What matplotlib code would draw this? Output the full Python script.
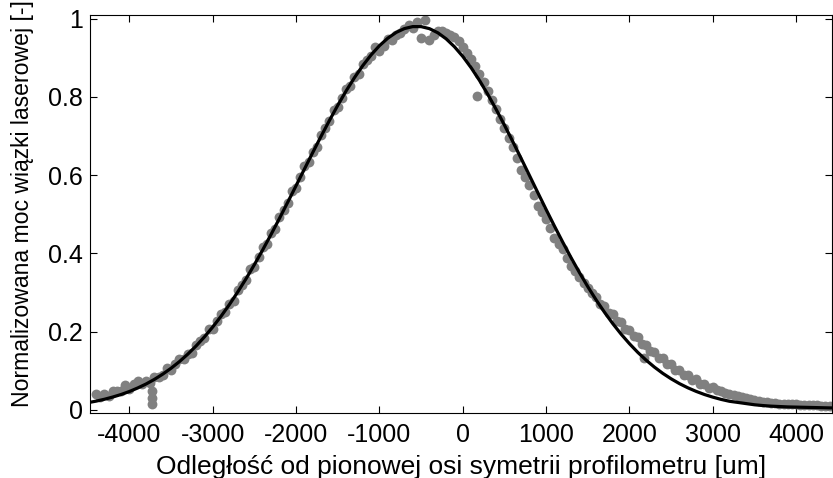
import numpy as np
import matplotlib
matplotlib.use("Agg")
import matplotlib.pyplot as plt

FONT = ["Liberation Sans", "DejaVu Sans"]

# measured profile (every 50 um from -4400 to 4400)
meas_x = np.arange(-4400, 4401, 50)
meas_y = [
    0.040, 0.033, 0.041, 0.035, 0.049, 0.048, 0.048, 0.063, 0.054, 0.065,
    0.074, 0.065, 0.074, 0.069, 0.084, 0.085, 0.088, 0.107, 0.102, 0.116,
    0.129, 0.129, 0.144, 0.146, 0.167, 0.175, 0.184, 0.207, 0.207, 0.227,
    0.246, 0.250, 0.271, 0.279, 0.306, 0.318, 0.332, 0.361, 0.366, 0.391,
    0.415, 0.425, 0.451, 0.462, 0.493, 0.510, 0.528, 0.560, 0.568, 0.595,
    0.622, 0.633, 0.660, 0.672, 0.703, 0.720, 0.737, 0.767, 0.774, 0.798,
    0.821, 0.828, 0.851, 0.857, 0.884, 0.894, 0.904, 0.927, 0.916, 0.931,
    0.948, 0.945, 0.957, 0.963, 0.974, 0.983, 0.975, 0.990, 0.949, 0.997,
    0.946, 0.957, 0.968, 0.968, 0.964, 0.958, 0.952, 0.942, 0.928, 0.913,
    0.896, 0.878, 0.858, 0.838, 0.816, 0.793, 0.770, 0.744, 0.719, 0.694,
    0.672, 0.644, 0.614, 0.595, 0.575, 0.549, 0.521, 0.506, 0.488, 0.465,
    0.439, 0.425, 0.410, 0.388, 0.367, 0.354, 0.339, 0.325, 0.311, 0.298,
    0.289, 0.270, 0.265, 0.247, 0.244, 0.228, 0.225, 0.207, 0.205, 0.189,
    0.186, 0.169, 0.167, 0.150, 0.149, 0.133, 0.133, 0.117, 0.117, 0.102,
    0.103, 0.089, 0.090, 0.077, 0.078, 0.066, 0.067, 0.057, 0.058, 0.051,
    0.047, 0.043, 0.040, 0.037, 0.035, 0.033, 0.030, 0.028, 0.025, 0.023,
    0.021, 0.019, 0.018, 0.017, 0.016, 0.015, 0.015, 0.014, 0.014, 0.013,
    0.013, 0.012, 0.012, 0.012, 0.011, 0.011, 0.011,
]

# stray points
odd_x = [-3735, -3730, -3728, 175, 2170]
odd_y = [0.047, 0.030, 0.015, 0.801, 0.132]

# fitted curve (every 100 um from -4500 to 4500)
fit_x = np.arange(-4500, 4501, 100)
fit_y = [
    0.0183, 0.0223, 0.0271, 0.0328, 0.0393, 0.0470, 0.0560, 0.0662, 0.0780, 0.0914,
    0.1065, 0.1234, 0.1424, 0.1634, 0.1866, 0.2120, 0.2395, 0.2694, 0.3015, 0.3354,
    0.3715, 0.4093, 0.4487, 0.4893, 0.5310, 0.5732, 0.6156, 0.6579, 0.6994, 0.7397,
    0.7785, 0.8151, 0.8490, 0.8798, 0.9072, 0.9307, 0.9498, 0.9645, 0.9744, 0.9794,
    0.9793, 0.9741, 0.9636, 0.9481, 0.9278, 0.9031, 0.8742, 0.8418, 0.8061, 0.7678,
    0.7274, 0.6854, 0.6424, 0.5988, 0.5551, 0.5118, 0.4694, 0.4282, 0.3885, 0.3506,
    0.3146, 0.2809, 0.2494, 0.2202, 0.1934, 0.1690, 0.1468, 0.1269, 0.1091, 0.0932,
    0.0793, 0.0670, 0.0564, 0.0472, 0.0392, 0.0325, 0.0267, 0.0219, 0.0190, 0.0160,
    0.0130, 0.0110, 0.0095, 0.0085, 0.0075, 0.0070, 0.0065, 0.0060, 0.0055, 0.0050,
    0.0050,
]

xticks = [-4000, -3000, -2000, -1000, 0, 1000, 2000, 3000, 4000]
yticks = [0, 0.2, 0.4, 0.6, 0.8, 1]
ytick_labels = ["0", "0.2", "0.4", "0.6", "0.8", "1"]

plt.rcParams["font.family"] = FONT

fig = plt.figure(figsize=(8.33, 4.78), dpi=100)
ax = fig.add_axes([0.108, 0.136, 0.8908, 0.8326])

ax.scatter(np.concatenate([meas_x, odd_x]), np.concatenate([meas_y, odd_y]),
           s=50, color="#808080", linewidths=0, zorder=2)
ax.plot(fit_x, fit_y, color="black", linewidth=2.3, zorder=3)

ax.set_xlim(-4474, 4430)
ax.set_ylim(-0.008, 1.009)
ax.set_xticks(xticks)
ax.set_xticklabels([str(t) for t in xticks])
ax.set_yticks(yticks)
ax.set_yticklabels(ytick_labels)

ax.tick_params(direction="in", length=5, width=0.8, top=True, right=True)
ax.tick_params(axis="x", labelsize=18, pad=7)
ax.tick_params(axis="y", labelsize=18, pad=5)
for sp in ax.spines.values():
    sp.set_linewidth(0.8)

ax.set_xlabel("Odległość od pionowej osi symetrii profilometru [um]", fontsize=19)
ax.xaxis.set_label_coords(0.5, -0.105)
ax.set_ylabel("Normalizowana moc wiązki laserowej [-]", fontsize=16.6)
ax.yaxis.set_label_coords(-0.076, 0.527)

fig.savefig("out.png", dpi=100)
